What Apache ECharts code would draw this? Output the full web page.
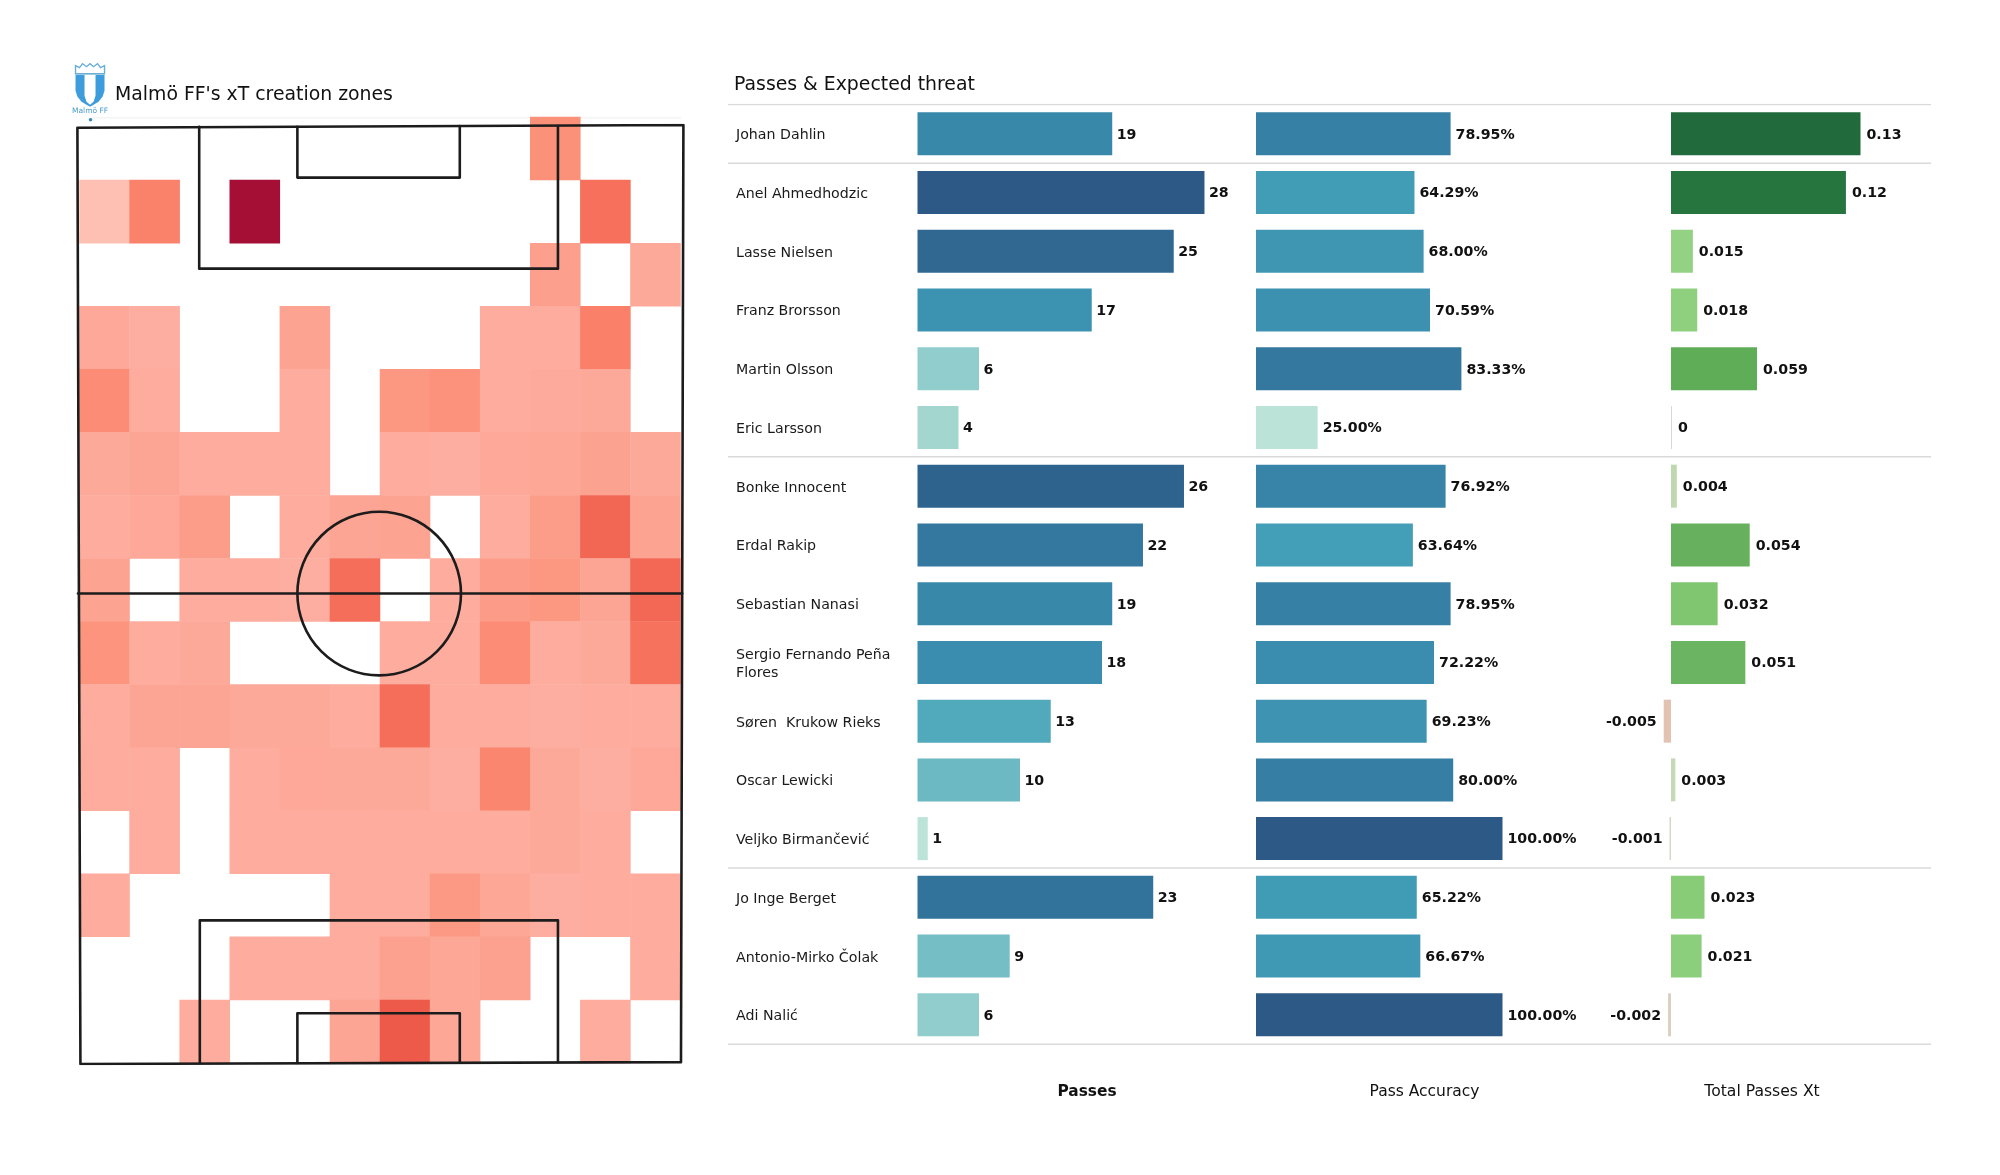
<!DOCTYPE html>
<html><head><meta charset="utf-8">
<style>html,body{margin:0;padding:0;background:#fff}#c{width:2000px;height:1175px}</style>
<script src="https://cdn.jsdelivr.net/npm/echarts@6/dist/echarts.min.js"></script>
</head><body><div id="c"></div>
<script>
const FONT = '"DejaVu Sans"';
const players = ['Johan Dahlin','Anel Ahmedhodzic','Lasse Nielsen','Franz Brorsson','Martin Olsson','Eric Larsson','Bonke Innocent','Erdal Rakip','Sebastian Nanasi','Sergio Fernando Peña\nFlores','Søren  Krukow Rieks','Oscar Lewicki','Veljko Birmančević','Jo Inge Berget','Antonio-Mirko Čolak','Adi Nalić'];
const passes = [19,28,25,17,6,4,26,22,19,18,13,10,1,23,9,6];
const accuracy = [78.95,64.29,68.00,70.59,83.33,25.00,76.92,63.64,78.95,72.22,69.23,80.00,100,65.22,66.67,100];
const xt = [0.13,0.12,0.015,0.018,0.059,0,0.004,0.054,0.032,0.051,-0.005,0.003,-0.001,0.023,0.021,-0.002];
const groupBreaks = [0,1,6,13,16];

// Heat rows, top to bottom, 12 zones each; null = no xT created
const heatRow0  = [null,null,null,null,null,null,null,null,null,0.29,null,null];
const heatRow1  = [0.0,0.39,null,1.0,null,null,null,null,null,null,0.49,null];
const heatRow2  = [null,null,null,null,null,null,null,null,null,0.20,null,0.11];
const heatRow3  = [0.12,0.08,null,null,0.16,null,null,null,0.09,0.09,0.40,null];
const heatRow4  = [0.32,0.09,null,null,0.09,null,0.25,0.28,0.09,0.10,0.11,null];
const heatRow5  = [0.11,0.15,0.09,0.09,0.09,null,0.09,0.08,0.12,0.13,0.17,0.11];
const heatRow6  = [0.09,0.12,0.21,null,0.09,0.15,0.16,null,0.09,0.21,0.54,0.16];
const heatRow7  = [0.16,null,0.09,0.09,0.08,0.50,null,0.09,0.22,0.25,0.15,0.53];
const heatRow8  = [0.27,0.09,0.11,null,null,null,0.09,0.09,0.32,0.09,0.11,0.48];
const heatRow9  = [0.09,0.15,0.15,0.11,0.11,0.09,0.50,0.09,0.09,0.08,0.09,0.09];
const heatRow10 = [0.09,0.09,null,0.09,0.12,0.11,0.11,0.08,0.36,0.11,0.08,0.12];
const heatRow11 = [null,0.09,null,0.09,0.09,0.09,0.09,0.09,0.09,0.11,0.09,null];
const heatRow12 = [0.09,null,null,null,null,0.09,0.09,0.24,0.13,0.08,0.09,0.09];
const heatRow13 = [null,null,null,0.09,0.09,0.09,0.18,0.13,0.18,null,null,0.09];
const heatRow14 = [null,null,0.09,null,null,0.15,0.60,0.13,null,null,0.09,null];
const heatRows = [heatRow0,heatRow1,heatRow2,heatRow3,heatRow4,heatRow5,heatRow6,heatRow7,heatRow8,heatRow9,heatRow10,heatRow11,heatRow12,heatRow13,heatRow14];
const heatColors = ['#ffc0b4','#fdaa9c','#fc9f8c','#fc8f78','#fa8069','#f56e5a','#ee5a4a','#dc4646','#cb3140','#b81e3a','#a50f35'];

// Pitch markings, in percent of the pitch frame
const pitchOutline = [[0,0.3],[100,0],[99.6,99.8],[0.5,100],[0,0.3]];
const pitchMid = [[0.1,49.9],[99.8,49.9]];
const boxTop = [[20.1,0.2],[20.1,15.3],[79.3,15.3],[79.3,0.1]];
const sixTop = [[36.3,0.2],[36.3,5.6],[63.1,5.6],[63.1,0.1]];
const boxBottom = [[20.2,99.9],[20.2,84.7],[79.3,84.7],[79.3,99.8]];
const sixBottom = [[36.3,99.9],[36.3,94.6],[63.1,94.6],[63.1,99.8]];
const pitchCircle = {x:49.8, y:49.9, r:13.5};

const crestStops = ['#bce3d8','#a0d4ce','#80c5c9','#62b2c0','#43a1b8','#3a8eae','#357ca2','#306a94','#2c5985'];
const xtStopValues = [-0.005,-0.002,0,0.004,0.015,0.023,0.032,0.051,0.059,0.12,0.13];
const xtStopColors = ['#e2c3b2','#d8d0c0','#d9d9d0','#bfd8b0','#93d282','#88cc78','#80c670','#6bb461','#60ad58','#26753e','#206a3c'];

function ramp(stops, t){ return echarts.color.lerp(Math.max(0,Math.min(1,t)), stops); }
function xtColor(v){
  for(let i=0;i<xtStopValues.length-1;i++){
    if(v<=xtStopValues[i+1]){
      const t=(v-xtStopValues[i])/(xtStopValues[i+1]-xtStopValues[i]);
      return echarts.color.lerp(t,[xtStopColors[i],xtStopColors[i+1]]);
    }
  }
  return xtStopColors[xtStopColors.length-1];
}

const heatData=[];
heatRows.forEach((row,r)=>row.forEach((v,c)=>{ if(v!==null) heatData.push([c,r,v]); }));

const rowsTop=104.4, rowsH=939.8;
function barGrid(left,width){return {left,width,top:rowsTop,height:rowsH};}
const yCat=(gi,show)=>({type:'category',gridIndex:gi,data:players,inverse:true,
  axisLine:{show:false},axisTick:{show:false},splitLine:{show:false},
  axisLabel:show?{show:true,interval:0,align:'left',margin:181.5,fontFamily:FONT,fontSize:14.2,color:'#1a1a1a',lineHeight:18}:{show:false}});
const xVal=(gi,min,max)=>({type:'value',gridIndex:gi,min,max,show:false,splitLine:{show:false}});
const labelBase={show:true,fontFamily:FONT,fontWeight:'bold',fontSize:14.2,color:'#111',offset:[0,1.2]};

function lineSeries(data){
  return {type:'line',xAxisIndex:1,yAxisIndex:1,data,symbol:'none',silent:true,z:5,
    lineStyle:{color:'#1c1c1c',width:2.6,cap:'round',join:'round'}};
}
const txt=(text,left,top,size,weight,align)=>({text,left,top,textAlign:align||'left',
  textStyle:{fontFamily:FONT,fontSize:size,fontWeight:weight||'normal',color:'#111'}});

const option={
  backgroundColor:'#fff',animation:false,
  title:[
    txt("Malmö FF's xT creation zones",110,80.5,18.85),
    txt('Passes & Expected threat',729,70.5,18.85),
    txt('Passes',1082,1079.5,15.4,'bold','center'),
    txt('Pass Accuracy',1419.5,1079,15.5,'normal','center'),
    txt('Total Passes Xt',1757,1079,15.6,'normal','center')
  ],
  grid:[
    {left:79.5,top:117,width:601,height:946},            // 0 heat
    {left:77.4,top:125,width:606,height:939},            // 1 pitch
    barGrid(917.5,288),                                   // 2 passes
    barGrid(1256,246.5),                                  // 3 accuracy
    barGrid(1663.7,196.8),                                // 4 xT
    {left:728,top:rowsTop,width:1203,height:rowsH},       // 5 separators
    {left:92,top:117,width:589,height:1},                 // 6 heat header rule
    {left:917.5,top:rowsTop+1.8,width:288,height:rowsH}   // 7 player names
  ],
  xAxis:[
    {type:'category',gridIndex:0,data:heatRows[0].map((_,i)=>i),show:false},
    xVal(1,0,100),
    xVal(2,0,28.1),xVal(3,0,100),xVal(4,-0.005,0.13),xVal(5,0,1),xVal(6,0,1),xVal(7,0,1)
  ],
  yAxis:[
    {type:'category',gridIndex:0,data:heatRows.map((_,i)=>i),inverse:true,show:false},
    {type:'value',gridIndex:1,min:0,max:100,inverse:true,show:false,splitLine:{show:false}},
    yCat(2,false),yCat(3,false),yCat(4,false),
    {type:'value',gridIndex:5,min:0,max:16,inverse:true,show:false,splitLine:{show:false}},
    {type:'value',gridIndex:6,min:0,max:1,show:false,splitLine:{show:false}},
    yCat(7,true)
  ],
  visualMap:[{type:'continuous',min:0,max:1,seriesIndex:0,show:false,inRange:{color:heatColors}}],
  series:[
    {type:'heatmap',xAxisIndex:0,yAxisIndex:0,data:heatData,itemStyle:{borderWidth:0},emphasis:{disabled:true},z:1},
    lineSeries(pitchOutline),lineSeries(pitchMid),lineSeries(boxTop),lineSeries(sixTop),lineSeries(boxBottom),lineSeries(sixBottom),
    {type:'custom',xAxisIndex:1,yAxisIndex:1,z:5,silent:true,data:[[pitchCircle.x,pitchCircle.y,pitchCircle.r]],
      renderItem:(p,api)=>{const c=api.coord([api.value(0),api.value(1)]);const r=api.size([api.value(2),0])[0];
        return {type:'circle',shape:{cx:c[0],cy:c[1],r},style:{fill:'none',stroke:'#1c1c1c',lineWidth:2.6}};}},
    {type:'bar',xAxisIndex:2,yAxisIndex:2,barWidth:43,data:passes.map(v=>({value:v,itemStyle:{color:ramp(crestStops,(v-1)/27)}})),
      label:{...labelBase,position:'right',distance:4.5}},
    {type:'bar',xAxisIndex:3,yAxisIndex:3,barWidth:43,data:accuracy.map(v=>({value:v,itemStyle:{color:ramp(crestStops,(v-25)/75)}})),
      label:{...labelBase,position:'right',distance:5,formatter:p=>p.value.toFixed(2)+'%'}},
    {type:'bar',xAxisIndex:4,yAxisIndex:4,barWidth:43,barMinHeight:1,
      data:xt.map(v=>({value:v,itemStyle:{color:xtColor(v)},label:{position:v<0?'left':'right',distance:v<0?7:6}})),
      label:{...labelBase,formatter:p=>String(p.value)}},
    ...groupBreaks.map(n=>({type:'line',xAxisIndex:5,yAxisIndex:5,data:[[0,n],[1,n]],symbol:'none',silent:true,
      lineStyle:{color:'#dadada',width:1.5},z:0})),
    {type:'line',xAxisIndex:6,yAxisIndex:6,data:[[0,0],[1,0]],symbol:'none',silent:true,lineStyle:{color:'#e8e8e8',width:1},z:0}
  ],
  graphic:[
    {type:'group',left:72,top:63,silent:true,children:[
      {type:'polygon',shape:{points:[[3,13],[32,13],[32,29],[30,35],[26,40],[21,43],[17.5,45],[14,43],[9,40],[5,35],[3,29]]},style:{fill:'#3d9cdc'}},
      {type:'polygon',shape:{points:[[12,13],[23,13],[23,34],[21,40],[17.5,43],[14,40],[12,34]]},style:{fill:'#fff'}},
      {type:'polygon',shape:{points:[[3,12],[3,4],[7,6],[10,2],[14,5],[17.5,2],[21,5],[25,2],[28,6],[32,4],[32,12]]},style:{fill:'#fff',stroke:'#6aaed6',lineWidth:1.4}},
      {type:'text',style:{x:17.5,y:45,text:'Malmö FF',fontFamily:FONT,fontSize:7.5,fill:'#4a9bc8',textAlign:'center'}},
      {type:'circle',shape:{cx:18,cy:58,r:1.8},style:{fill:'#3d86b8'}}
    ]}
  ]
};
echarts.init(document.getElementById('c'),null,{renderer:'canvas'}).setOption(option);
</script></body></html>
